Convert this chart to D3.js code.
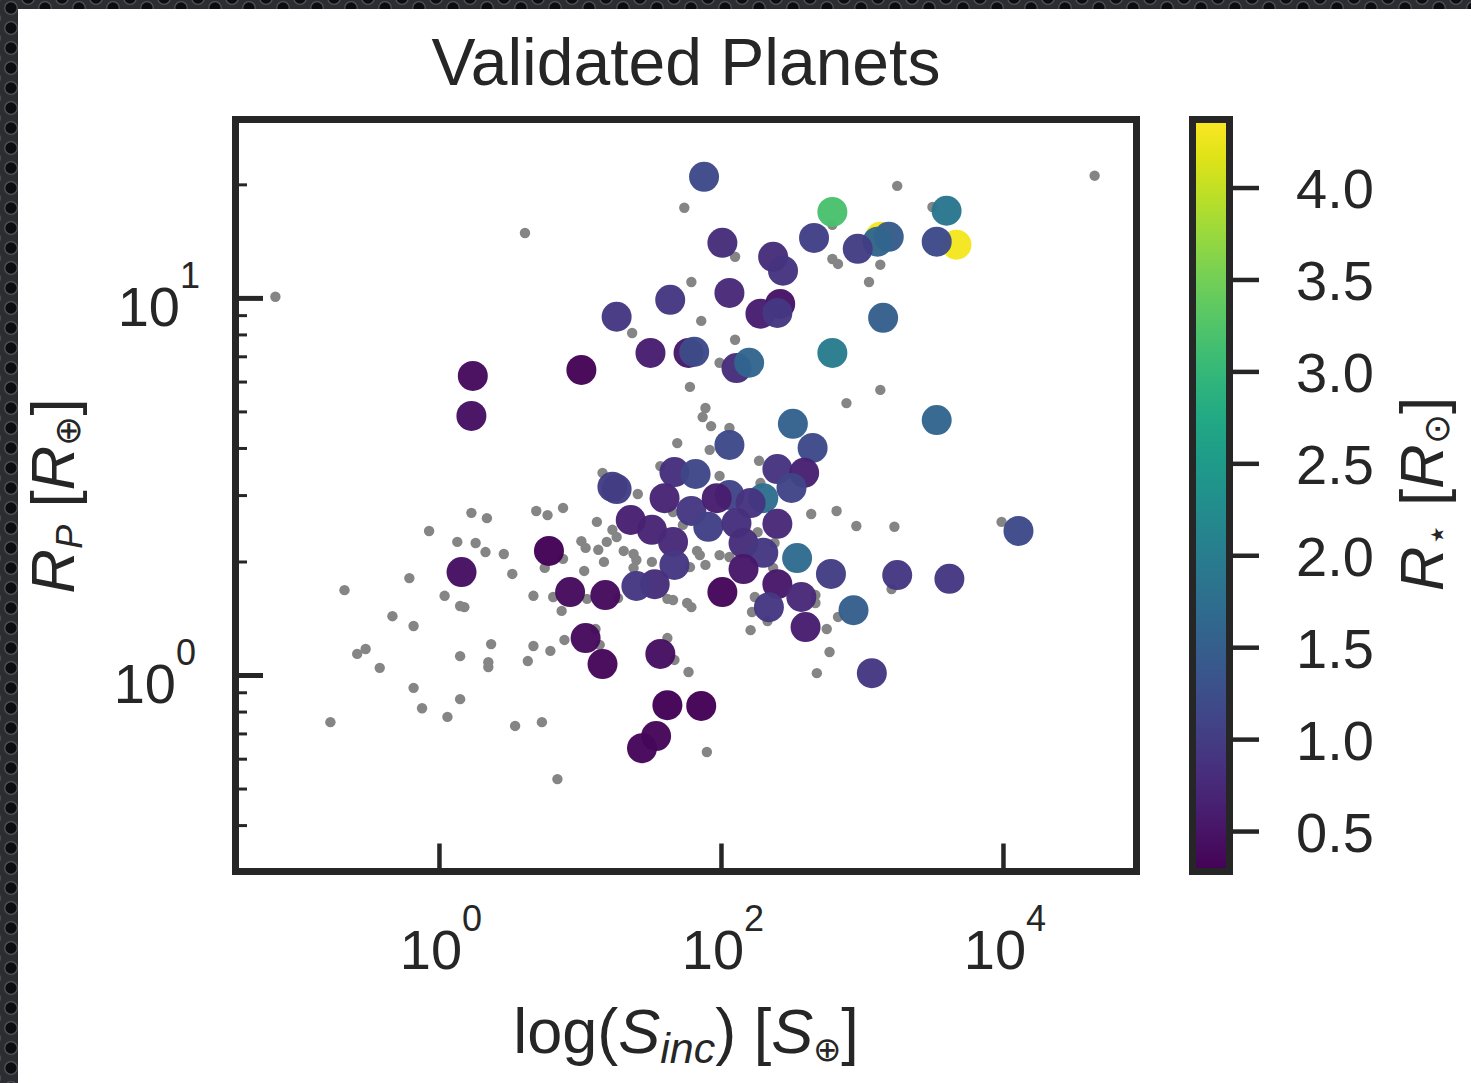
<!DOCTYPE html>
<html>
<head>
<meta charset="utf-8">
<script src="https://cdn.jsdelivr.net/npm/d3@7"></script>
<style>
  html, body { margin: 0; padding: 0; background: #1b1c1f; }
  svg { display: block; }
  text { fill: #262626; font-family: "Liberation Sans", Arial, sans-serif; }
</style>
</head>
<body>
<svg id="chart"></svg>
<script>
// ---- data (log10 values, as on the axes) ----
// validated planets: log10 incident flux, log10 planet radius, stellar radius
var validLogFlux = [1.88, 2.79, 3.13, 3.19, 3.11, 2.97, 2.66, 3.60, 3.67, 3.53,
  2.01, 2.37, 2.44, 1.64, 2.06, 2.42, 2.28, 2.40, 1.26, 1.50,
  1.77, 1.81, 2.11, 2.20, 2.79, 3.15, 1.01, 0.24, 0.23, 2.51,
  3.53, 2.65, 2.06, 2.40, 2.59, 2.50, 1.67, 1.82, 2.30, 2.06,
  1.60, 1.79, 1.91, 2.21, 2.11, 2.40, 1.51, 1.66, 2.16, 2.30,
  2.54, 2.78, 3.25, 3.62, 4.11, 1.67, 2.16, 1.53, 2.01, 2.40,
  2.57, 2.94, 2.34, 2.60, 3.07, 1.57, 1.62, 1.86, 1.26, 1.36,
  1.40, 0.78, 0.16, 0.93, 1.18, 1.04, 1.16, 1.54, 1.44, 1.97,
  1.23];
var validLogRadius = [1.321, 1.228, 1.162, 1.162, 1.149, 1.130, 1.159, 1.231, 1.141, 1.149,
  1.146, 1.109, 1.072, 0.995, 1.013, 0.984, 0.958, 0.960, 0.950, 0.854,
  0.854, 0.857, 0.814, 0.828, 0.854, 0.947, 0.809, 0.793, 0.687, 0.666,
  0.676, 0.602, 0.610, 0.546, 0.536, 0.496, 0.538, 0.533, 0.469, 0.477,
  0.469, 0.435, 0.393, 0.456, 0.403, 0.401, 0.385, 0.353, 0.350, 0.324,
  0.310, 0.268, 0.265, 0.255, 0.382, 0.292, 0.281, 0.241, 0.220, 0.241,
  0.207, 0.172, 0.180, 0.127, 0.005, 0.056, -0.080, -0.082, 0.493, 0.411,
  0.236, 0.329, 0.273, 0.220, 0.212, 0.098, 0.029, -0.162, -0.194, 0.469,
  0.499];
var validRstar = [1.2, 3.2, 4.33, 1.45, 1.6, 1.0, 1.05, 1.9, 4.3, 1.2,
  0.8, 0.8, 0.9, 0.95, 0.75, 0.5, 0.6, 0.95, 0.95, 0.6,
  0.55, 1.2, 0.8, 1.6, 2.0, 1.5, 0.32, 0.4, 0.45, 1.55,
  1.6, 1.2, 1.2, 0.9, 0.65, 1.1, 0.85, 1.15, 1.75, 1.1,
  0.7, 0.95, 1.05, 0.9, 0.85, 0.75, 0.7, 0.75, 0.8, 0.95,
  1.7, 1.0, 0.95, 0.95, 1.2, 0.95, 0.55, 0.8, 0.35, 0.55,
  0.75, 1.5, 0.95, 0.6, 0.95, 0.45, 0.3, 0.3, 1.05, 0.65,
  0.95, 0.3, 0.45, 0.4, 0.4, 0.4, 0.35, 0.35, 0.35, 0.6,
  1.0];

// background (grey) population
var otherLogFlux = [-1.16, 0.61, 4.65, 3.25, 1.74, 3.50, 2.79, 2.10, 2.79, 2.83,
  3.13, 3.05, 1.79, 1.86, 2.10, 1.99, 1.78, 3.13, 2.89, 1.89,
  1.87, 1.93, 2.06, 1.69, 1.92, 2.27, 1.57, 1.99, 2.28, 1.37,
  1.16, 1.41, 1.12, 1.23, 1.26, 0.23, 0.34, 0.69, 0.77, 0.88,
  -0.07, 0.13, 0.26, 0.33, 0.46, 0.52, 1.01, 1.04, 1.13, 1.19,
  1.31, 1.38, 1.40, 1.51, 1.17, 0.88, 0.75, 1.03, 1.38, -0.21,
  -0.67, 0.04, 0.15, 0.18, 0.67, 0.81, 0.87, 1.05, 1.27, 1.62,
  1.66, -0.33, -0.18, 0.37, 0.67, 0.79, 0.89, 1.11, 1.14, 1.62,
  1.67, -0.58, -0.52, -0.42, 0.15, 0.35, 0.35, 0.63, -0.18, -0.12,
  0.15, 0.06, -0.77, 0.54, 0.73, 0.84, 2.64, 2.82, 2.96, 3.23,
  3.99, 1.66, 1.73, 1.83, 1.85, 1.89, 1.99, 1.78, 2.06, 2.26,
  2.38, 2.37, 1.76, 1.79, 2.22, 2.24, 2.67, 2.67, 2.21, 2.33,
  2.75, 2.83, 3.21, 2.77, 2.68, 1.77, 1.90];
var otherLogRadius = [1.003, 1.172, 1.324, 1.297, 1.239, 1.241, 1.194, 1.109, 1.103, 1.090,
  1.088, 1.042, 1.042, 0.939, 0.889, 0.828, 0.764, 0.756, 0.721, 0.708,
  0.684, 0.660, 0.655, 0.615, 0.597, 0.568, 0.554, 0.528, 0.509, 0.907,
  0.536, 0.480, 0.406, 0.385, 0.366, 0.430, 0.416, 0.435, 0.424, 0.443,
  0.382, 0.353, 0.350, 0.326, 0.321, 0.268, 0.355, 0.337, 0.332, 0.353,
  0.329, 0.321, 0.305, 0.300, 0.300, 0.308, 0.284, 0.276, 0.284, 0.257,
  0.225, 0.210, 0.183, 0.180, 0.210, 0.207, 0.170, 0.202, 0.204, 0.202,
  0.199, 0.156, 0.130, 0.082, 0.077, 0.064, 0.093, 0.122, 0.080, 0.098,
  0.040, 0.056, 0.069, 0.019, 0.050, 0.034, 0.021, 0.037, -0.034, -0.088,
  -0.064, -0.111, -0.125, -0.135, -0.125, -0.276, 0.427, 0.435, 0.395, 0.393,
  0.406, 0.432, 0.398, 0.329, 0.318, 0.292, 0.318, 0.286, 0.313, 0.379,
  0.350, 0.284, 0.191, 0.180, 0.167, 0.207, 0.212, 0.191, 0.119, 0.143,
  0.122, 0.154, 0.228, 0.061, 0.005, 0.008, -0.204];

// ticks
var xMajorTicks = [1, 100, 10000];
var xTickExponents = ["0", "2", "4"];
var yMajorTicks = [1, 10];
var yTickExponents = ["0", "1"];
var yMinorTicks = [0.4, 0.5, 0.6, 0.7, 0.8, 0.9, 2, 3, 4, 5, 6, 7, 8, 9, 20];
var cbarTicks = [0.5, 1.0, 1.5, 2.0, 2.5, 3.0, 3.5, 4.0];
var cbarRange = [0.28, 4.37];

// ---- layout ----
var svgWidth = 1471;
var svgHeight = 1083;
var frame = {left: 235.5, top: 119.5, right: 1136.5, bottom: 871.5};
var cbar = {left: 1192.5, right: 1229.5};
var ink = "#262626";

var svg = d3.select("#chart")
  .attr("width", svgWidth)
  .attr("height", svgHeight);

var defs = svg.append("defs");

// perforated-metal backdrop round the white page
var holes = defs.append("pattern")
  .attr("id", "holes")
  .attr("patternUnits", "userSpaceOnUse")
  .attr("width", 34)
  .attr("height", 20);
holes.append("rect").attr("width", 34).attr("height", 20).attr("fill", "#2b2d31");
[[11, 8], [28, -2], [28, 18], [-6, -2], [-6, 18]].forEach(function(p) {
  holes.append("circle")
    .attr("cx", p[0]).attr("cy", p[1]).attr("r", 6.3)
    .attr("fill", "#0c0d0f")
    .attr("stroke", "#50535a")
    .attr("stroke-width", 1.3);
});
svg.append("rect").attr("width", svgWidth).attr("height", svgHeight).attr("fill", "url(#holes)");
svg.append("rect")
  .attr("x", 18).attr("y", 9)
  .attr("width", svgWidth - 18).attr("height", svgHeight - 9)
  .attr("fill", "#ffffff");

// scales
var x = d3.scaleLog()
  .domain([Math.pow(10, -1.443), Math.pow(10, 4.947)])
  .range([frame.left, frame.right]);
var y = d3.scaleLog()
  .domain([Math.pow(10, -0.521), Math.pow(10, 1.473)])
  .range([frame.bottom, frame.top]);
var cScale = d3.scaleLinear()
  .domain(cbarRange)
  .range([frame.bottom, frame.top]);
var color = d3.scaleSequential(d3.interpolateViridis).domain(cbarRange);

var others = otherLogFlux.map(function(d, i) {
  return {s: Math.pow(10, d), r: Math.pow(10, otherLogRadius[i])};
});
var planets = validLogFlux.map(function(d, i) {
  return {s: Math.pow(10, d), r: Math.pow(10, validLogRadius[i]), rs: validRstar[i]};
});

// points
svg.append("g").selectAll("circle")
  .data(others)
  .enter()
  .append("circle")
  .attr("cx", d => x(d.s))
  .attr("cy", d => y(d.r))
  .attr("r", 5.2)
  .attr("fill", "#858585");

svg.append("g").selectAll("circle")
  .data(planets)
  .enter()
  .append("circle")
  .attr("cx", d => x(d.s))
  .attr("cy", d => y(d.r))
  .attr("r", 15)
  .attr("fill", d => color(d.rs))
  .attr("fill-opacity", 0.97);

// inward ticks
function styleTicks(g, width) {
  g.select(".domain").remove();
  g.selectAll("line").attr("stroke", ink).attr("stroke-width", width);
}

svg.append("g")
  .attr("transform", `translate(0, ${frame.bottom})`)
  .call(d3.axisBottom(x).tickValues(xMajorTicks).tickSize(-28).tickFormat(""))
  .call(styleTicks, 4.5);

svg.append("g")
  .attr("transform", `translate(${frame.left}, 0)`)
  .call(d3.axisLeft(y).tickValues(yMinorTicks).tickSize(-11.5).tickFormat(""))
  .call(styleTicks, 3);

svg.append("g")
  .attr("transform", `translate(${frame.left}, 0)`)
  .call(d3.axisLeft(y).tickValues(yMajorTicks).tickSize(-27.5).tickFormat(""))
  .call(styleTicks, 5);

// frame
svg.append("rect")
  .attr("x", frame.left).attr("y", frame.top)
  .attr("width", frame.right - frame.left)
  .attr("height", frame.bottom - frame.top)
  .attr("fill", "none")
  .attr("stroke", ink)
  .attr("stroke-width", 7);

// power-of-ten tick labels
function powerLabel(g, exp, anchor) {
  g.attr("text-anchor", anchor).style("font-size", "56px");
  g.append("tspan").text("10");
  g.append("tspan").attr("dy", -38).style("font-size", "36px").text(exp);
}

xMajorTicks.forEach(function(t, i) {
  svg.append("text")
    .attr("x", x(t) + 2)
    .attr("y", 969)
    .call(powerLabel, xTickExponents[i], "middle");
});

yMajorTicks.forEach(function(t, i) {
  svg.append("text")
    .attr("x", i === 1 ? 200 : 196)
    .attr("y", y(t) + 28)
    .call(powerLabel, yTickExponents[i], "end");
});

// colorbar
var grad = defs.append("linearGradient")
  .attr("id", "viridis")
  .attr("x1", 0).attr("y1", 1).attr("x2", 0).attr("y2", 0);
d3.range(0, 1.0001, 0.05).forEach(function(t) {
  grad.append("stop")
    .attr("offset", t)
    .attr("stop-color", d3.interpolateViridis(t));
});

svg.append("rect")
  .attr("x", cbar.left).attr("y", frame.top)
  .attr("width", cbar.right - cbar.left)
  .attr("height", frame.bottom - frame.top)
  .attr("fill", "url(#viridis)")
  .attr("stroke", ink)
  .attr("stroke-width", 7);

svg.append("g")
  .attr("transform", `translate(${cbar.right + 3.5}, 0)`)
  .call(d3.axisRight(cScale).tickValues(cbarTicks).tickSize(26).tickFormat(""))
  .call(styleTicks, 4.5);

cbarTicks.forEach(function(t) {
  svg.append("text")
    .attr("x", 1296)
    .attr("y", cScale(t) + 20.5)
    .style("font-size", "56px")
    .text(d3.format(".1f")(t));
});

// title and axis labels
svg.append("text")
  .attr("x", 686)
  .attr("y", 85)
  .attr("text-anchor", "middle")
  .style("font-size", "66px")
  .text("Validated Planets");

var xLabel = svg.append("text")
  .attr("x", 686)
  .attr("y", 1053)
  .attr("text-anchor", "middle")
  .style("font-size", "63px");
xLabel.append("tspan").text("log(");
xLabel.append("tspan").style("font-style", "italic").text("S");
xLabel.append("tspan").attr("dy", 10).style("font-style", "italic").style("font-size", "43px").text("inc");
xLabel.append("tspan").attr("dy", -10).text(") [");
xLabel.append("tspan").style("font-style", "italic").text("S");
xLabel.append("tspan").attr("dy", 8).style("font-size", "34px").text("\u2295");
xLabel.append("tspan").attr("dy", -8).text("]");

var yLabel = svg.append("text")
  .attr("transform", "translate(74, 496) rotate(-90)")
  .attr("text-anchor", "middle")
  .style("font-size", "62px");
yLabel.append("tspan").style("font-style", "italic").text("R");
yLabel.append("tspan").attr("dy", 8).style("font-style", "italic").style("font-size", "36px").text("P");
yLabel.append("tspan").attr("dy", -8).text(" [");
yLabel.append("tspan").style("font-style", "italic").text("R");
yLabel.append("tspan").attr("dy", 6).style("font-size", "36px").text("\u2295");
yLabel.append("tspan").attr("dy", -6).text("]");

var cLabel = svg.append("text")
  .attr("transform", "translate(1443, 494) rotate(-90)")
  .attr("text-anchor", "middle")
  .style("font-size", "62px");
cLabel.append("tspan").style("font-style", "italic").text("R");
cLabel.append("tspan").attr("dy", 6).style("font-size", "36px").text("\u22c6");
cLabel.append("tspan").attr("dy", -6).text(" [");
cLabel.append("tspan").style("font-style", "italic").text("R");
cLabel.append("tspan").attr("dy", 6).style("font-size", "36px").text("\u2299");
cLabel.append("tspan").attr("dy", -6).text("]");
</script>
</body>
</html>
